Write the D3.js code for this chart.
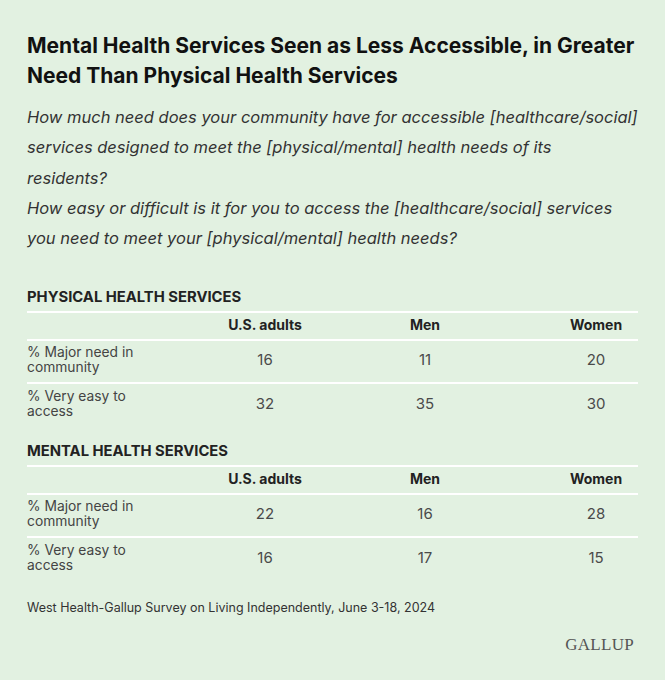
<!DOCTYPE html>
<html>
<head>
<meta charset="utf-8">
<script src="https://cdn.jsdelivr.net/npm/d3@7"></script>
<style>
  body { margin: 0; background: #e2f1e1; }
  svg { display: block; font-family: Inter, "Noto Sans", sans-serif; }
</style>
</head>
<body>
<svg id="chart" width="665" height="680"></svg>
<script>
// data
var titleLines = ["Mental Health Services Seen as Less Accessible, in Greater",
                  "Need Than Physical Health Services"]
var subtitleLines = ["How much need does your community have for accessible [healthcare/social]",
                     "services designed to meet the [physical/mental] health needs of its",
                     "residents?",
                     "How easy or difficult is it for you to access the [healthcare/social] services",
                     "you need to meet your [physical/mental] health needs?"]
var columns = ["U.S. adults", "Men", "Women"]
var rowLabels = [["% Major need in", "community"], ["% Very easy to", "access"]]
var sections = ["PHYSICAL HEALTH SERVICES", "MENTAL HEALTH SERVICES"]
var physicalValues = [[16, 11, 20], [32, 35, 30]]
var mentalValues = [[22, 16, 28], [16, 17, 15]]
var sourceNote = "West Health-Gallup Survey on Living Independently, June 3-18, 2024"

var svg = d3.select("#chart")
var left = 27, right = 638

svg.append("rect").attr("width", 665).attr("height", 680).attr("fill", "#e2f1e1")

// title
svg.selectAll(".title").data(titleLines).join("text")
    .attr("class", "title")
    .attr("x", left)
    .attr("y", function(d, i) { return 53 + i * 30 })
    .attr("font-size", 21).attr("font-weight", 700).attr("fill", "#111")
    .text(function(d) { return d })

svg.selectAll(".sub").data(subtitleLines).join("text")
    .attr("class", "sub")
    .attr("x", left)
    .attr("y", function(d, i) { return 123 + i * 30.3 })
    .attr("font-size", 16.5).attr("font-style", "italic").attr("fill", "#333")
    .text(function(d) { return d })

var xCol = d3.scaleOrdinal().domain(columns).range([265, 425, 596])

function drawSection(top, name, values) {
  var g = svg.append("g").attr("transform", "translate(0," + top + ")")
  g.append("text").attr("x", left).attr("y", 5)
      .attr("font-size", 14.8).attr("font-weight", 700).attr("fill", "#222")
      .text(name)
  // rules
  g.selectAll("line").data([15, 43, 86]).join("line")
      .attr("x1", left).attr("x2", right)
      .attr("y1", function(d) { return d }).attr("y2", function(d) { return d })
      .attr("stroke", "#fff").attr("stroke-width", 2)
  g.selectAll(".head").data(columns).join("text")
      .attr("class", "head")
      .attr("x", function(d) { return xCol(d) }).attr("y", 33)
      .attr("text-anchor", "middle")
      .attr("font-size", 14).attr("font-weight", 700).attr("fill", "#222")
      .text(function(d) { return d })

  var yRow = d3.scalePoint().domain([0, 1]).range([63, 107])
  var rows = g.selectAll(".row").data(values).join("g")
      .attr("class", "row")
      .attr("transform", function(d, i) { return "translate(0," + yRow(i) + ")" })
  rows.selectAll(".lab").data(function(d, i) { return rowLabels[i] }).join("text")
      .attr("class", "lab")
      .attr("x", left).attr("y", function(d, j) { return j * 15.5 - 3.5 })
      .attr("font-size", 13.8).attr("fill", "#444")
      .text(function(d) { return d })
  rows.selectAll(".val").data(function(d) { return d }).join("text")
      .attr("class", "val")
      .attr("x", function(d, j) { return xCol(columns[j]) }).attr("y", 5)
      .attr("text-anchor", "middle")
      .attr("font-size", 15).attr("fill", "#4a4a4a")
      .text(function(d) { return d })
}

drawSection(297, sections[0], physicalValues)
drawSection(451, sections[1], mentalValues)

svg.append("text").attr("x", left).attr("y", 612)
    .attr("font-size", 12.5).attr("fill", "#333")
    .text(sourceNote)

svg.append("text").attr("x", 634).attr("y", 650)
    .attr("text-anchor", "end")
    .attr("font-family", "'Liberation Serif', 'DejaVu Serif', serif")
    .attr("font-size", 17).attr("letter-spacing", 0.3).attr("fill", "#555")
    .text("GALLUP")
</script>
</body>
</html>
